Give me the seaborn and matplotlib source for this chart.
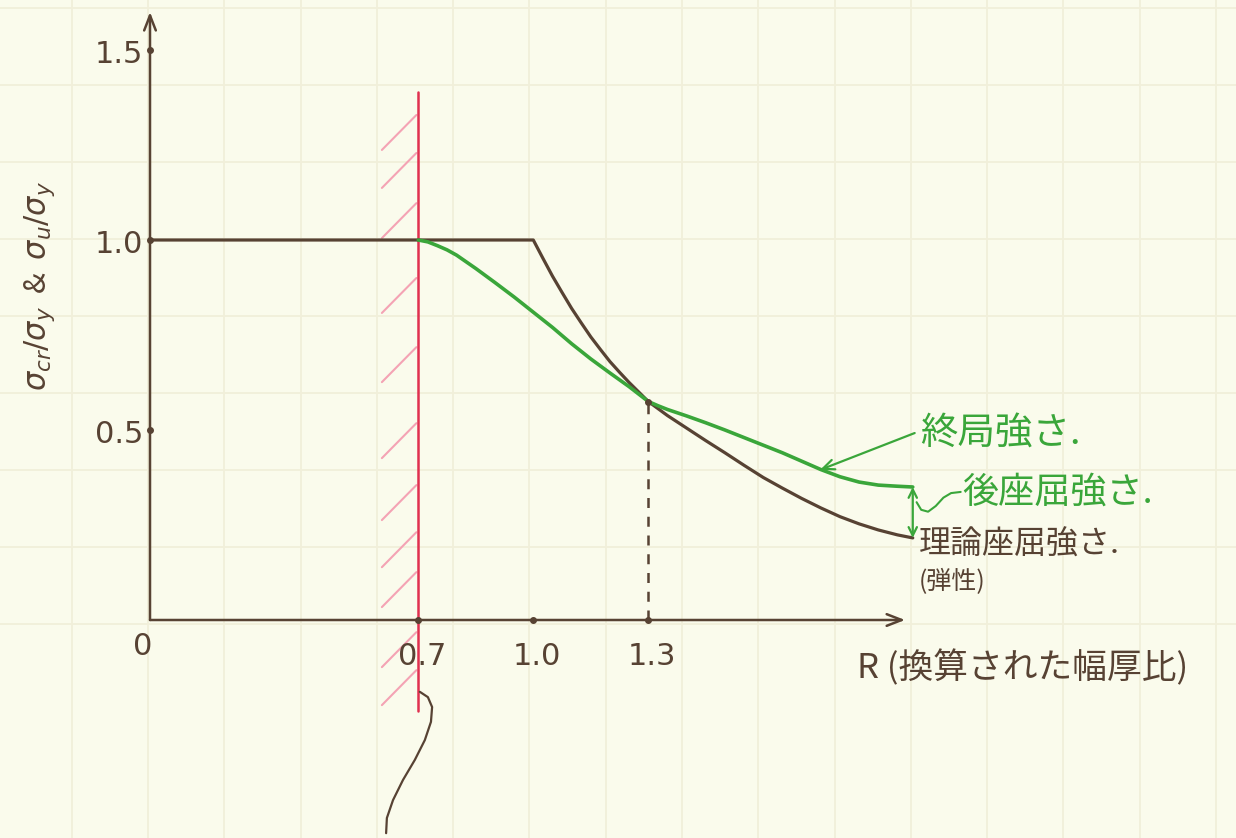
import numpy as np
import pandas as pd
import matplotlib
matplotlib.use("Agg")
import matplotlib.pyplot as plt
import seaborn as sns

# ---- data -------------------------------------------------------------
# theoretical (elastic) buckling strength
r_theory = [0.0, 1.000, 1.025, 1.050, 1.075, 1.100, 1.125, 1.150, 1.175,
            1.200, 1.225, 1.250, 1.275, 1.300, 1.350, 1.400, 1.450, 1.500,
            1.550, 1.600, 1.650, 1.700, 1.750, 1.800, 1.850, 1.900, 1.950,
            1.990]
s_theory = [1.000, 1.000, 0.952, 0.905, 0.862, 0.820, 0.782, 0.745, 0.712,
            0.680, 0.652, 0.625, 0.600, 0.575, 0.538, 0.505, 0.472, 0.440,
            0.407, 0.375, 0.347, 0.320, 0.295, 0.272, 0.253, 0.237, 0.224,
            0.216]

# ultimate strength
r_ult = [0.700, 0.725, 0.750, 0.775, 0.800, 0.850, 0.900, 0.950, 1.000,
         1.050, 1.100, 1.150, 1.200, 1.250, 1.300, 1.325, 1.350, 1.400,
         1.450, 1.500, 1.550, 1.600, 1.650, 1.700, 1.750, 1.800, 1.850,
         1.900, 1.950, 1.990]
s_ult = [1.000, 0.995, 0.985, 0.974, 0.960, 0.925, 0.888, 0.850, 0.810,
         0.770, 0.727, 0.687, 0.650, 0.614, 0.575, 0.564, 0.554, 0.537,
         0.519, 0.500, 0.480, 0.460, 0.440, 0.418, 0.396, 0.377, 0.363,
         0.355, 0.352, 0.350]

x_ticks = [0.7, 1.0, 1.3]
x_tick_labels = ["0.7", "1.0", "1.3"]
y_ticks = [0.5, 1.0, 1.5]
y_tick_labels = ["0.5", "1.0", "1.5"]

r_limit = 0.7          # width-thickness ratio limit (red wall)
r_cross = 1.3          # where the two curves meet
s_cross = 0.575

label_ult = "終局強さ."
label_post = "後座屈強さ."
label_theory = "理論座屈強さ."
label_elastic = "(弾性)"
x_label = "R (換算された幅厚比)"
y_label = r"$\sigma_{cr}/\sigma_y$  &  $\sigma_u/\sigma_y$"

# ---- style ------------------------------------------------------------
sns.set_theme(style="white")
plt.rcParams["font.family"] = ["Noto Sans CJK JP", "DejaVu Sans"]
plt.rcParams["mathtext.fontset"] = "dejavusans"

PAPER = "#fafbec"
GRID = "#f1efda"
BROWN = "#574233"
GREEN = "#3aa63a"
RED = "#e0304f"
PINK = "#f4a3b4"

W, H = 1236, 838
fig = plt.figure(figsize=(W / 100, H / 100), dpi=100, facecolor=PAPER)
ax = fig.add_axes([0, 0, 1, 1])
ax.set_facecolor(PAPER)
ax.set_xlim(-150 / 383.3, (W - 150) / 383.3)
ax.set_ylim((620 - H) / 380, 620 / 380)
ax.axis("off")

# graph paper
for k in range(-4, 12):
    ax.axvline(0.592 + 0.199 * k, color=GRID, lw=1.3, zorder=0)
for k in range(-3, 8):
    ax.axhline(1.408 - 0.2026 * k, color=GRID, lw=1.3, zorder=0)

# hand-drawn axes with open arrowheads
arrow_kw = dict(arrowstyle="->,head_length=0.9,head_width=0.35",
                color=BROWN, lw=1.8, shrinkA=0, shrinkB=0)
ax.annotate("", xy=(0, 1.60), xytext=(0, 0), arrowprops=arrow_kw, zorder=3)
ax.annotate("", xy=(1.97, 0), xytext=(0, 0), arrowprops=arrow_kw, zorder=3)

# tick dots and labels
ax.plot([0] * len(y_ticks), y_ticks, "o", ms=4, color=BROWN, zorder=4)
ax.plot(x_ticks, [0] * len(x_ticks), "o", ms=4, color=BROWN, zorder=4)
for yv, lab in zip(y_ticks, y_tick_labels):
    ax.text(-0.018, yv - 0.012, lab, ha="right", va="center", fontsize=22,
            color=BROWN, family="DejaVu Sans")
for xv, lab in zip(x_ticks, x_tick_labels):
    ax.text(xv + 0.01, -0.095, lab, ha="center", va="center", fontsize=22,
            color=BROWN, family="DejaVu Sans")
ax.text(-0.02, -0.07, "0", ha="center", va="center", fontsize=22,
        color=BROWN, family="DejaVu Sans")

# red wall at R = 0.7 with hatching
ax.plot([r_limit, r_limit], [1.39, -0.24], color=RED, lw=1.8, zorder=2)
hatch_y = [1.237, 1.137, 1.005, 0.808, 0.626, 0.426, 0.263, 0.139, 0.034,
           -0.124, -0.224]
for hy in hatch_y:
    ax.plot([r_limit - 0.095, r_limit - 0.005], [hy, hy + 0.092],
            color=PINK, lw=1.5, zorder=1)

# brace under the wall
brace_x = [0.704, 0.725, 0.736, 0.733, 0.717, 0.691, 0.660, 0.634, 0.618,
           0.616]
brace_y = [-0.189, -0.203, -0.229, -0.268, -0.316, -0.368, -0.421, -0.474,
           -0.521, -0.561]
ax.plot(brace_x, brace_y, color=BROWN, lw=1.6, zorder=2,
        solid_capstyle="round", solid_joinstyle="round")

# curves
df_theory = pd.DataFrame({"R": r_theory, "s": s_theory})
df_ult = pd.DataFrame({"R": r_ult, "s": s_ult})
sns.lineplot(data=df_theory, x="R", y="s", ax=ax, color=BROWN, lw=2.3,
             zorder=5, legend=False, solid_joinstyle="round")
sns.lineplot(data=df_ult, x="R", y="s", ax=ax, color=GREEN, lw=2.6,
             zorder=6, legend=False, solid_joinstyle="round")
ax.set_xlabel("")
ax.set_ylabel("")
ax.axis("off")

# dashed guide at the crossing
ax.plot([r_cross, r_cross], [0, s_cross], color=BROWN, lw=1.8,
        ls=(0, (4, 3.5)), zorder=3)
ax.plot([r_cross], [s_cross], "o", ms=4, color=BROWN, zorder=7)

# post-buckling gap marker
ax.annotate("", xy=(r_ult[-1], s_theory[-1]), xytext=(r_ult[-1], s_ult[-1]),
            arrowprops=dict(arrowstyle="<->,head_length=0.5,head_width=0.25",
                            color=GREEN, lw=1.6, shrinkA=0, shrinkB=0),
            zorder=7)
sq_x = [2.115, 2.090, 2.070, 2.050, 2.030, 2.012, 2.000]
sq_y = [0.337, 0.334, 0.322, 0.300, 0.285, 0.290, 0.310]
ax.plot(sq_x, sq_y, color=GREEN, lw=1.5, zorder=7, solid_joinstyle="round")

# pointer to the ultimate-strength curve
ax.annotate("", xy=(1.748, 0.395), xytext=(1.995, 0.492),
            arrowprops=dict(arrowstyle="->,head_length=0.7,head_width=0.3",
                            color=GREEN, lw=1.6, shrinkA=0, shrinkB=0),
            zorder=7)

# labels
ax.text(2.01, 0.492, label_ult, ha="left", va="center", fontsize=27,
        color=GREEN)
ax.text(2.12, 0.334, label_post, ha="left", va="center", fontsize=26,
        color=GREEN)
ax.text(2.005, 0.198, label_theory, ha="left", va="center", fontsize=23,
        color=BROWN)
ax.text(2.005, 0.100, label_elastic, ha="left", va="center", fontsize=18,
        color=BROWN)
ax.text(1.845, -0.127, x_label, ha="left", va="center", fontsize=25,
        color=BROWN)
ax.text(-0.287, 0.88, y_label, ha="center", va="center", fontsize=22,
        rotation=90, color=BROWN)

fig.savefig("out.png", dpi=100, facecolor=PAPER)
